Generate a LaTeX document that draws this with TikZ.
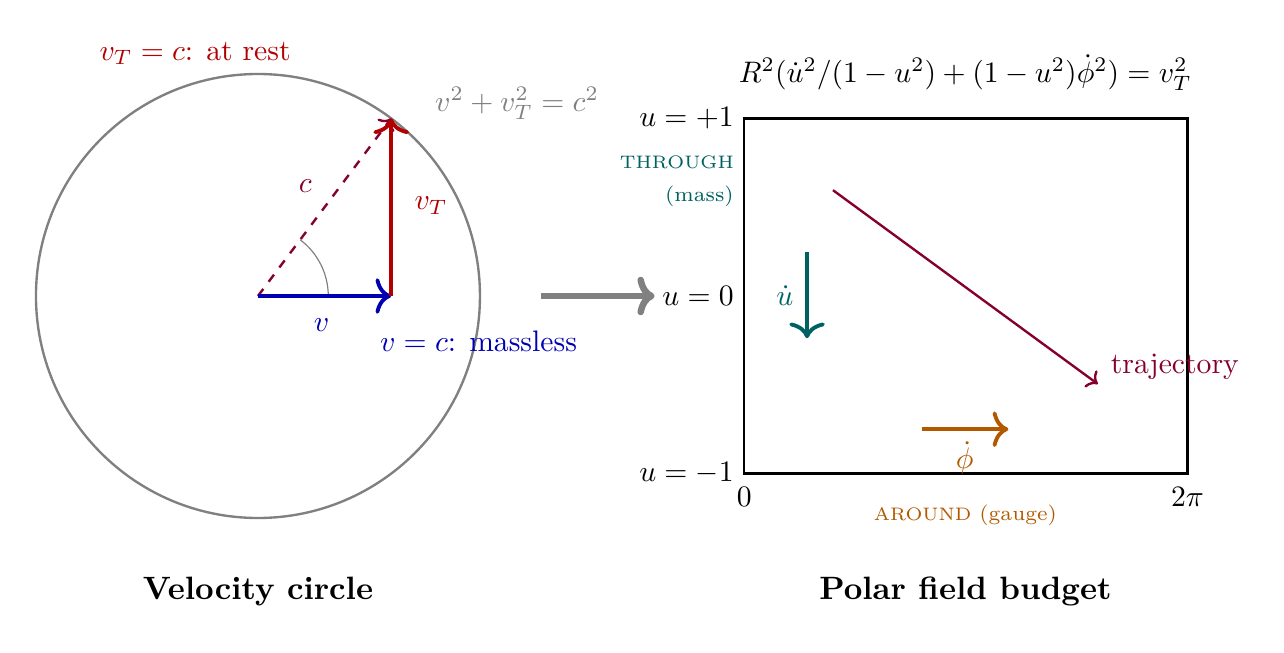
\documentclass[tikz,border=0pt]{standalone}
\usepackage{amsmath}
\usepackage{fontspec}
\usetikzlibrary{arrows.meta}
\definecolor{vred}{rgb}{0.70,0,0}
\definecolor{vblue}{rgb}{0,0,0.70}
\definecolor{cmaroon}{rgb}{0.52,0,0.18}
\definecolor{tealc}{rgb}{0,0.38,0.38}
\definecolor{orangec}{rgb}{0.70,0.35,0}
\newcommand{\spcaps}[1]{{\fontsize{6.1pt}{7pt}\selectfont #1}}
\begin{document}
\begin{tikzpicture}[x=0.877cm,y=0.877cm,
  vec/.style={line width=1.3pt,-{Computer Modern Rightarrow[width=12pt,length=5.3pt]}},
  thinvec/.style={thick,-{Computer Modern Rightarrow[width=7pt,length=3.3pt]}},
  bigvec/.style={line width=2.2pt,-{Computer Modern Rightarrow[width=13pt,length=5.8pt]}},
  lab/.style={inner sep=2pt},
  title/.style={font=\fontsize{10.9pt}{13pt}\selectfont\bfseries}]
\useasboundingbox (-3.486,-4.824) rectangle (13.865,4.0);
% ---------- velocity circle ----------
\coordinate (O) at (0,0);
\coordinate (V) at (1.8,0);
\coordinate (P) at (1.8,2.4);
\draw[gray,thick] (O) circle[radius=3];
\draw[cmaroon,thinvec,dashed] (O) -- (P);
\draw[gray,thin] (0.95,0) arc[start angle=0,end angle=53.13,radius=0.95];
\draw[vblue,vec] (O) -- (V);
\draw[vred,vec] (V) -- (P);
\node[cmaroon,lab] (clab) at (0.64,1.49) {$c$};
\node[vred,lab] (vtlab) at (2.34,1.22) {$v_T$};
\node[vblue,lab] (vlab) at (0.86,-0.39) {$v$};
\node[gray,lab] (eq1) at (3.5,2.6) {$v^2+v_T^2=c^2$};
\node[vred,lab] (rest) at (-0.85,3.28) {$v_T=c$: at rest};
\node[vblue,lab] (mless) at (2.98,-0.61) {$v=c$: massless};
\node[title] (t1) at (0,-3.99) {Velocity circle};
% ---------- connector ----------
\coordinate (A1) at (3.82,0);
\coordinate (A2) at (5.36,0);
\draw[gray,bigvec] (A1) -- (A2);
% ---------- polar field budget ----------
\coordinate (BL) at (6.57,-2.4);
\coordinate (TR) at (12.56,2.4);
\coordinate (TL) at (6.57,2.4);
\coordinate (BR) at (12.56,-2.4);
\coordinate (ML) at (6.57,0);
\draw[thick] (BL) rectangle (TR);
\node[anchor=east] (up) at (TL) {$u=+1$};
\node[anchor=east] (mid) at (ML) {$u=0$};
\node[anchor=east] (dn) at (BL) {$u=-1$};
\node[anchor=north] (zero) at ([yshift=-1pt]BL) {$0$};
\node[anchor=north] (twopi) at ([yshift=-1pt]BR) {$2\pi$};
\node[tealc,anchor=east,font=\scriptsize] (thr) at (6.57,1.80) {\spcaps{THROUGH}};
\node[tealc,anchor=east,font=\scriptsize] (mass) at (6.57,1.35) {(mass)};
\node[orangec,font=\scriptsize] (around) at (9.56,-2.97) {\spcaps{AROUND} (gauge)};
\node (eq2) at (9.56,3.02) {$R^2(\dot u^2/(1-u^2)+(1-u^2)\dot\phi^2)=v_T^2$};
\node[title] (t2) at (9.56,-3.99) {Polar field budget};
\coordinate (U1) at (7.42,0.59);
\coordinate (U2) at (7.42,-0.57);
\draw[tealc,vec] (U1) -- (U2);
\node[tealc] (udot) at (7.12,0) {$\dot u$};
\coordinate (F1) at (8.97,-1.80);
\coordinate (F2) at (10.14,-1.80);
\draw[orangec,vec] (F1) -- (F2);
\node[orangec] (phidot) at (9.55,-2.19) {$\dot\phi$};
\coordinate (T1) at (7.77,1.43);
\coordinate (T2) at (11.35,-1.19);
\draw[cmaroon,thinvec] (T1) -- (T2);
\node[cmaroon] (traj) at (12.39,-0.95) {trajectory};
\end{tikzpicture}
\end{document}
